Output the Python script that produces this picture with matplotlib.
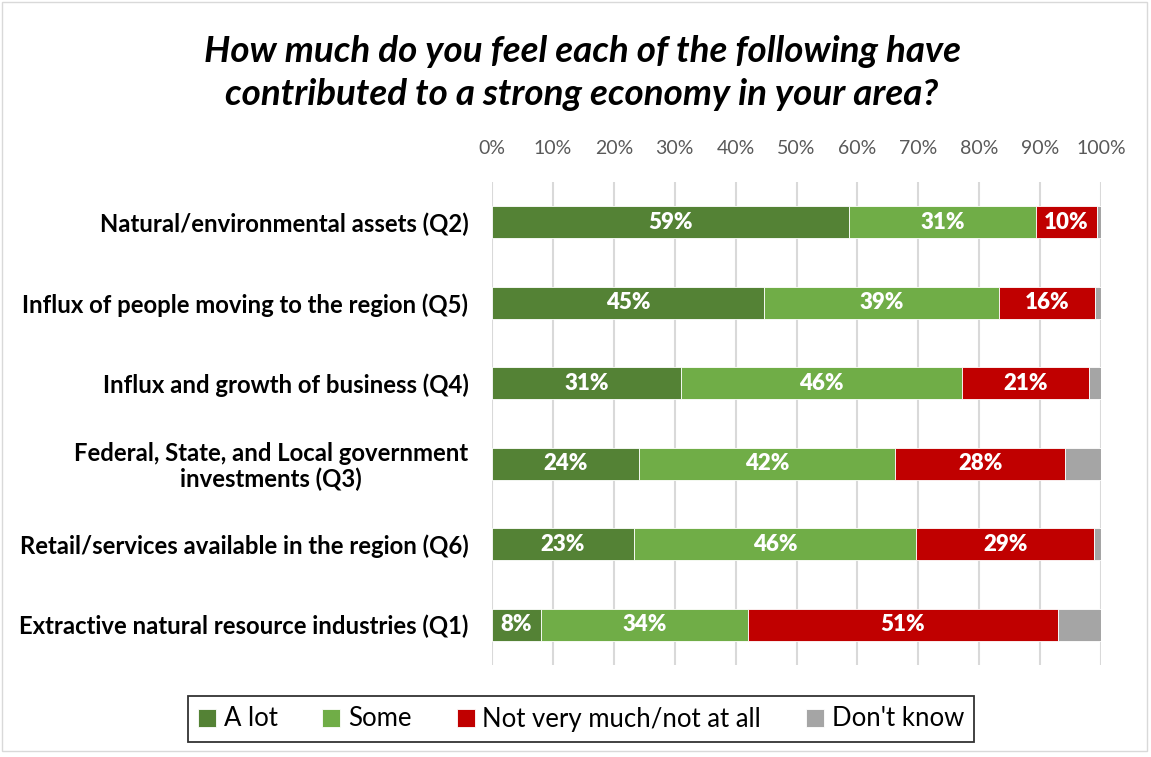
import matplotlib
matplotlib.use("Agg")
import matplotlib.pyplot as plt
from matplotlib.patches import Rectangle

categories = [
    "Natural/environmental assets (Q2)",
    "Influx of people moving to the region (Q5)",
    "Influx and growth of business (Q4)",
    "Federal, State, and Local government\ninvestments (Q3)",
    "Retail/services available in the region (Q6)",
    "Extractive natural resource industries (Q1)",
]
series_names = ["A lot", "Some", "Not very much/not at all", "Don't know"]
a_lot = [58.6, 44.7, 31.0, 24.1, 23.3, 8.0]
some = [30.7, 38.6, 46.2, 42.1, 46.4, 34.0]
not_much = [10.0, 15.7, 20.8, 27.9, 29.2, 50.9]
dont_know = [0.7, 1.0, 2.0, 5.9, 1.1, 7.1]
show_label = [True, True, True, False]
colors = ["#548235", "#70AD47", "#C00000", "#A5A5A5"]
xticks = [0, 10, 20, 30, 40, 50, 60, 70, 80, 90, 100]

FONT = "Lato"
W, H = 1151, 757
fig = plt.figure(figsize=(W / 100, H / 100), dpi=100)
ax = fig.add_axes([492 / W, 1 - 665 / H, (1101 - 492) / W, (665 - 182) / H])

series = [a_lot, some, not_much, dont_know]
ypos = list(range(len(categories)))
left = [0.0] * len(categories)
for name, vals, col, lab in zip(series_names, series, colors, show_label):
    bars = ax.barh(ypos, vals, left=left, height=0.4, color=col, label=name,
                   edgecolor="white", linewidth=0.6, zorder=3)
    if lab:
        for b, v in zip(bars, vals):
            ax.text(b.get_x() + b.get_width() / 2, b.get_y() + b.get_height() / 2,
                    f"{round(v):d}%", ha="center", va="center", color="white",
                    fontsize=16, fontweight="heavy", family=FONT, zorder=4)
    left = [l + v for l, v in zip(left, vals)]

ax.set_xlim(0, 100)
ax.set_ylim(len(categories) - 0.5, -0.5)
ax.set_xticks(xticks)
ax.set_xticklabels([f"{t}%" for t in xticks], family=FONT, fontsize=14, color="#595959")
ax.xaxis.tick_top()
ax.tick_params(axis="x", length=0, pad=18)
ax.set_yticks(ypos)
ax.set_yticklabels(categories, family=FONT, fontsize=17.2, fontweight="bold",
                   color="black", ha="right", multialignment="center", linespacing=1.1)
ax.tick_params(axis="y", length=0, pad=17)
ax.grid(axis="x", color="#D9D9D9", linewidth=1.5, zorder=0)
for s in ax.spines.values():
    s.set_visible(False)

fig.text(582 / W, 1 - 73 / H,
         "How much do you feel each of the following have\ncontributed to a strong economy in your area?",
         ha="center", va="center", fontsize=26.5, fontweight="bold", style="italic",
         family=FONT, linespacing=1.38)

leg = fig.legend(loc="center", bbox_to_anchor=(581 / W, 1 - 719 / H), ncol=4,
                 frameon=True, fancybox=False, edgecolor="black",
                 prop={"family": FONT, "size": 18.5}, handlelength=0.7, handleheight=0.7,
                 columnspacing=1.75, handletextpad=0.3, borderpad=0.4, borderaxespad=0)
leg.get_frame().set_linewidth(1.3)

fig.patches.append(Rectangle((2 / W, 6 / H), (W - 6) / W, (H - 8) / H, transform=fig.transFigure,
                             fill=False, edgecolor="#D9D9D9", linewidth=1))

fig.savefig("out.png", dpi=100)
